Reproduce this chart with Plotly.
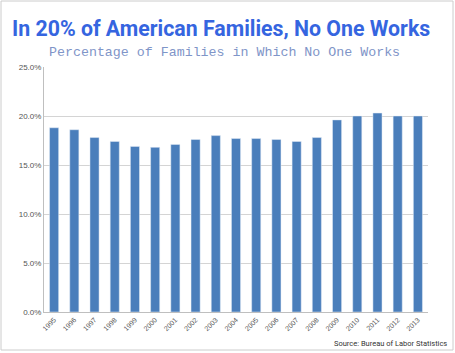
import plotly.graph_objects as go

years = [str(y) for y in range(1995, 2014)]
values = [18.8, 18.6, 17.8, 17.4, 16.9, 16.8, 17.1, 17.6, 18.0, 17.7,
          17.7, 17.6, 17.4, 17.8, 19.6, 20.0, 20.3, 20.0, 20.0]
title_text = "In 20% of American Families, No One Works"
subtitle_text = "Percentage of Families in Which No One Works"
source_text = "Source: Bureau of Labor Statistics"

W, H = 455, 353
L, R, T, B = 44, 27, 67, 41
pw, ph = W - L - R, H - T - B

def px(x):
    return (x - L) / pw

def py(y):
    return (H - B - y) / ph

fig = go.Figure(go.Bar(x=years, y=values, marker_color="#4a7ebb", width=0.45))

fig.update_layout(
    width=W, height=H, margin=dict(l=L, r=R, t=T, b=B),
    paper_bgcolor="white", plot_bgcolor="white", showlegend=False,
    xaxis=dict(type="category", tickangle=-45, tickfont=dict(size=7, color="#555", family="Liberation Sans"),
               showline=True, linecolor="#bfbfbf", ticks="", showgrid=False),
    yaxis=dict(range=[0, 25], dtick=5, tickformat=".1f", ticksuffix="%",
               tickfont=dict(size=8, color="#555", family="Liberation Sans"),
               showgrid=True, gridcolor="#d4d4d4", gridwidth=1, zeroline=False,
               showline=True, linecolor="#bfbfbf", ticks=""),
    annotations=[
        dict(text=title_text, x=px(221), y=py(28), xref="paper", yref="paper",
             showarrow=False, xanchor="center", yanchor="middle",
             font=dict(family="Roboto", size=21.3, color="#3565e0", weight="bold")),
        dict(text=subtitle_text, x=px(224), y=py(53), xref="paper", yref="paper",
             showarrow=False, xanchor="center", yanchor="middle",
             font=dict(family="Liberation Mono", size=13.3, color="#7f95c8")),
        dict(text=source_text, x=px(449), y=py(343), xref="paper", yref="paper",
             showarrow=False, xanchor="right", yanchor="middle",
             font=dict(family="Roboto", size=7.5, color="#333")),
    ],
    shapes=[dict(type="rect", xref="paper", yref="paper",
                 x0=px(1), x1=px(453), y0=py(350), y1=py(1),
                 line=dict(color="#cccccc", width=1))],
)

fig.write_html("out.html")
